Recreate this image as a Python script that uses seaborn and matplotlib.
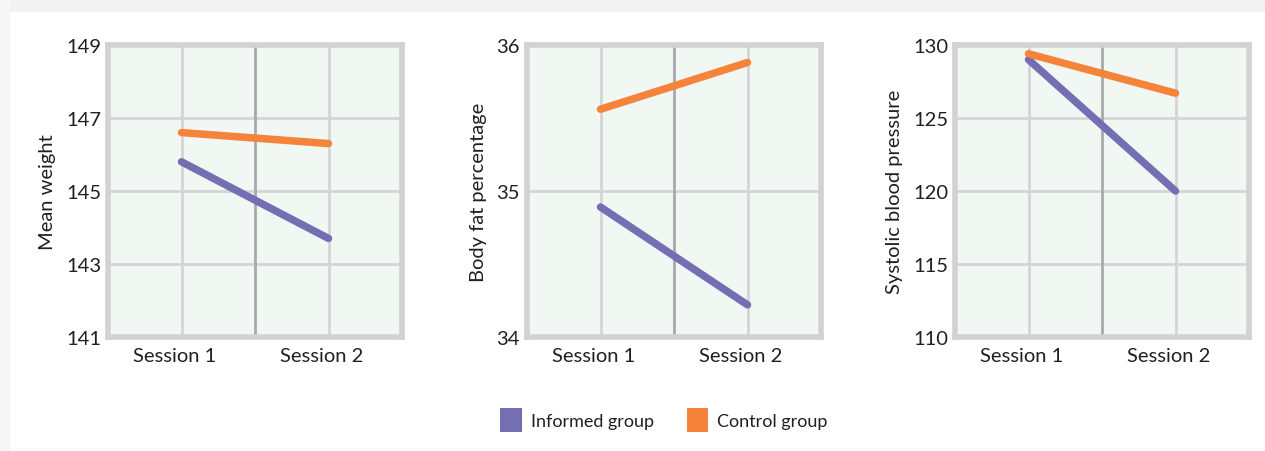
import pandas as pd
import matplotlib
matplotlib.use("Agg")
import matplotlib.pyplot as plt
import matplotlib.transforms as mtransforms
from matplotlib.patches import Patch, Rectangle
import seaborn as sns

sessions = ['Session 1', 'Session 2']
groups = ['Informed group', 'Control group']

weight_informed = [145.8, 143.7]
weight_control = [146.6, 146.3]
fat_informed = [34.89, 34.22]
fat_control = [35.56, 35.88]
bp_informed = [129.0, 120.0]
bp_control = [129.4, 126.7]

weight_ticks = [141, 143, 145, 147, 149]
fat_ticks = [34, 35, 36]
bp_ticks = [110, 115, 120, 125, 130]

ylabels = ['Mean weight', 'Body fat percentage', 'Systolic blood pressure']

purple = '#746fb2'
orange = '#f5843a'
palette = {'Informed group': purple, 'Control group': orange}

sns.set_style('white')
plt.rcParams['font.family'] = ['Lato', 'DejaVu Sans']
text_color = '#231f20'


def make_df(informed, control):
    return pd.DataFrame({
        'session': sessions * 2,
        'group': [groups[0]] * 2 + [groups[1]] * 2,
        'value': informed + control,
    })


panels = [
    (make_df(weight_informed, weight_control), weight_ticks, ylabels[0]),
    (make_df(fat_informed, fat_control), fat_ticks, ylabels[1]),
    (make_df(bp_informed, bp_control), bp_ticks, ylabels[2]),
]

fig = plt.figure(figsize=(12.65, 4.52), dpi=100)
fig.patch.set_facecolor('white')
# faint card edge at top/left
fig.patches.append(Rectangle((0, 1 - 12 / 452), 1, 12 / 452, transform=fig.transFigure,
                             color='#f3f3f3', zorder=0))
fig.patches.append(Rectangle((0, 0), 9 / 1265, 1, transform=fig.transFigure,
                             color='#f6f6f6', zorder=0))

lefts = [108, 527, 955]
shift = mtransforms.ScaledTranslation(-7 / 100, 0, fig.dpi_scale_trans)
for left, (df, ticks, ylab) in zip(lefts, panels):
    ax = fig.add_axes([left / 1265, 1 - 338 / 452, 294 / 1265, 292 / 452])
    ax.set_facecolor('#f1f7f2')
    sns.lineplot(data=df, x='session', y='value', hue='group', hue_order=groups,
                 palette=palette, linewidth=5.4, ax=ax, legend=False,
                 solid_capstyle='round', zorder=5)
    ax.set_xlim(-0.5, 1.5)
    ax.set_ylim(ticks[0], ticks[-1])
    ax.set_xticks([0, 1])
    ax.set_xticklabels(sessions)
    ax.set_yticks(ticks)
    ax.grid(True, color='#d3d5d6', linewidth=2)
    ax.axvline(0.5, color='#a8a9ac', linewidth=2, zorder=1)
    ax.set_axisbelow(True)
    for sp in ax.spines.values():
        sp.set_color('#d1d2d4')
        sp.set_linewidth(4)
    ax.tick_params(axis='both', length=0, labelsize=14.5, colors=text_color)
    ax.tick_params(axis='x', pad=7)
    ax.tick_params(axis='y', pad=5)
    for lab in ax.get_xticklabels():
        lab.set_transform(lab.get_transform() + shift)
    ax.set_xlabel('')
    ax.set_ylabel(ylab, fontsize=14.5, color=text_color, labelpad=7)

handles = [Patch(facecolor=palette[g], edgecolor='none') for g in groups]
fig.legend(handles, groups, loc='center', bbox_to_anchor=(0.525, 0.069), ncol=2,
           frameon=False, fontsize=13, handlelength=1.2, handleheight=1.7,
           columnspacing=1.8, handletextpad=0.5, labelcolor=text_color)

fig.savefig('out.png', dpi=100)
